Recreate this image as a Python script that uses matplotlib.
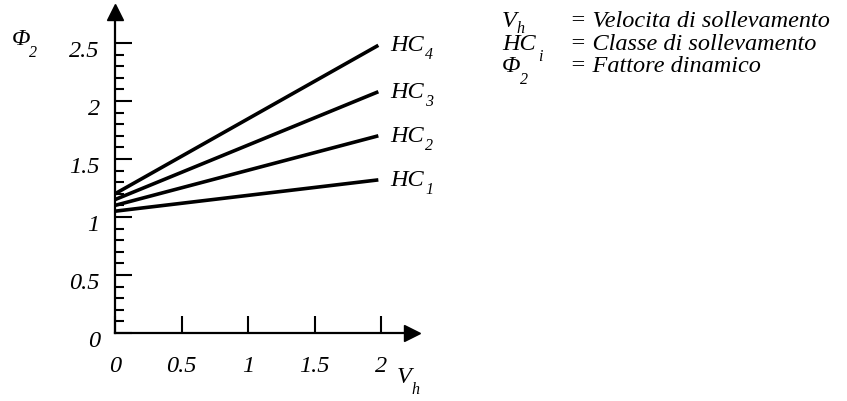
import matplotlib
matplotlib.use("Agg")
import matplotlib.pyplot as plt
import matplotlib.transforms as mtrans
from matplotlib.ticker import FixedLocator

plt.rcParams['font.family'] = ['Liberation Serif', 'DejaVu Serif']
plt.rcParams['font.style'] = 'italic'

# data
x_vals = [0.0, 1.98]
class_names = ['HC', 'HC', 'HC', 'HC']
class_subs = ['1', '2', '3', '4']
phi_start = [1.05, 1.10, 1.15, 1.20]
phi_end = [1.32, 1.70, 2.08, 2.48]
x_ticks = [0.0, 0.5, 1.0, 1.5, 2.0]
x_ticklabels = ['0', '0.5', '1', '1.5', '2']
y_ticks = [0.0, 0.5, 1.0, 1.5, 2.0, 2.5]
y_ticklabels = ['0', '0.5', '1', '1.5', '2', '2.5']
y_minor = [0.1, 0.2, 0.3, 0.4, 0.6, 0.7, 0.8, 0.9, 1.1, 1.2, 1.3, 1.4,
           1.6, 1.7, 1.8, 1.9, 2.1, 2.2, 2.3, 2.4]
legend_main = ['V', 'HC', '\u03A6']
legend_sub = ['h', 'i', '2']
legend_desc = ['= Velocita di sollevamento', '= Classe di sollevamento', '= Fattore dinamico']

FS, SFS = 17.5, 11.5
W, H, DPI = 847, 401, 100
fig = plt.figure(figsize=(W / DPI, H / DPI), dpi=DPI)
xmax, ymax = 2.23, 2.77
ax = fig.add_axes([115 / W, (H - 333) / H, xmax * 133 / W, ymax * 116 / H])
ax.set_xlim(0, xmax)
ax.set_ylim(0, ymax)

for s in ['top', 'right']:
    ax.spines[s].set_visible(False)
for s in ['left', 'bottom']:
    ax.spines[s].set_linewidth(1.6)

# arrowheads
ax.plot(1, 0, marker='>', color='k', markersize=11, transform=ax.get_yaxis_transform(), clip_on=False)
ax.plot(0, 1, marker='^', color='k', markersize=11, transform=ax.get_xaxis_transform(), clip_on=False)

PT = 0.72  # points per pixel at 100 dpi


def add_sub(main, text, y, ycoords, dx_px, dy_px):
    return ax.annotate(text, xy=(1, y), xycoords=(main, ycoords),
                       xytext=(dx_px * PT, -dy_px * PT), textcoords='offset points',
                       fontsize=SFS, va='baseline', ha='left', annotation_clip=False)


for name, sub, y0, y1 in zip(class_names, class_subs, phi_start, phi_end):
    ax.plot(x_vals, [y0, y1], color='k', lw=2.6, solid_capstyle='butt')
    m = ax.annotate(name, xy=(x_vals[-1], y1), xytext=(12 * PT, -6 * PT), textcoords='offset points',
                    fontsize=FS, va='baseline', ha='left')
    add_sub(m, sub, y1, 'data', 1, 6 + 8)

ax.xaxis.set_major_locator(FixedLocator(x_ticks))
ax.set_xticklabels(x_ticklabels)
ax.yaxis.set_major_locator(FixedLocator(y_ticks))
ax.set_yticklabels(y_ticklabels)
ax.yaxis.set_minor_locator(FixedLocator(y_minor))
ax.tick_params(axis='x', which='major', direction='in', length=12.5, width=1.5, pad=16.5, labelsize=FS)
ax.tick_params(axis='y', which='major', direction='in', length=12.5, width=1.5, pad=11, labelsize=FS)
ax.tick_params(axis='y', which='minor', direction='in', length=6.3, width=1.5)

off = mtrans.ScaledTranslation(0, -4 / 72, fig.dpi_scale_trans)
for lab in ax.get_yticklabels():
    lab.set_transform(lab.get_transform() + off)

# pixel coordinates measured from the top-left corner
pix = mtrans.Affine2D().scale(1 / W, -1 / H).translate(0, 1) + fig.transFigure


def fig_label(x, y, main, sub, dx_px, dy_px):
    m = fig.text(x, y, main, fontsize=FS, ha='left', va='baseline', transform=pix)
    add_sub(m, sub, H - y, 'figure pixels', dx_px, dy_px)
    return m


fig_label(397, 383, 'V', 'h', 0, 11)
fig_label(12, 45, '\u03A6', '2', -2, 12)

rows = [27, 50, 72]
sub_dx = [0, 2, -1]
sub_dy = [6, 11, 12]
for main, sub, desc, r, dx, dy in zip(legend_main, legend_sub, legend_desc, rows, sub_dx, sub_dy):
    fig_label(502, r, main, sub, dx, dy)
    fig.text(570, r, desc, fontsize=FS, ha='left', va='baseline', transform=pix)

fig.savefig('out.png', dpi=DPI)
